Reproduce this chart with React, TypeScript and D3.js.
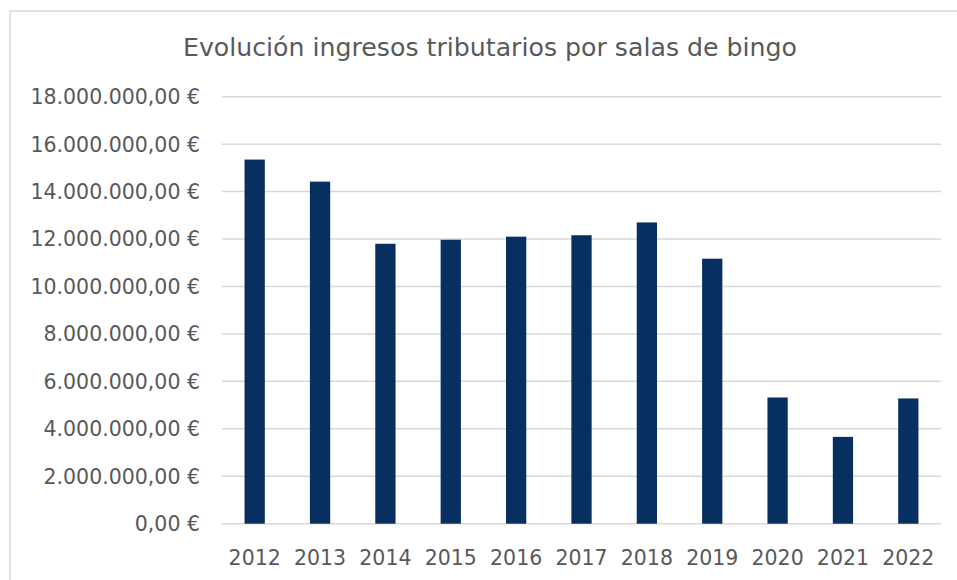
import React from "react";
import * as d3 from "d3";

const years = ["2012","2013","2014","2015","2016","2017","2018","2019","2020","2021","2022"];
const values = [15350000, 14420000, 11800000, 11970000, 12100000, 12160000, 12700000, 11170000, 5320000, 3660000, 5280000];
const yTicks = [0, 2000000, 4000000, 6000000, 8000000, 10000000, 12000000, 14000000, 16000000, 18000000];
const title = "Evolución ingresos tributarios por salas de bingo";

const W = 957, H = 580;
const left = 222, right = 941, top = 96.7, bottom = 523.7;
const FONT = "'DejaVu Sans', sans-serif";
const TEXT = "#595959";

function fmt(v: number) {
  const s = Math.round(v).toString().replace(/\B(?=(\d{3})+(?!\d))/g, ".");
  return `${s},00 €`;
}

export default function App() {
  const x = d3.scaleBand<string>().domain(years).range([left, right]).paddingInner(0.69).paddingOuter(0.345);
  const y = d3.scaleLinear().domain([0, 18000000]).range([bottom, top]);
  return (
    <svg width={W} height={H} style={{ position: "absolute", left: 0, top: 0 }} fontFamily={FONT}>
      <rect x={0} y={0} width={W} height={H} fill="#fff" />
      <rect x={10} y={11} width={W + 20} height={H + 20} fill="none" stroke="#d9d9d9" strokeWidth={1.5} />
      <text x={490} y={56} textAnchor="middle" fontSize={24} fill={TEXT} textLength={614} lengthAdjust="spacingAndGlyphs">{title}</text>
      {yTicks.map((t) => (
        <g key={t}>
          <line x1={left} x2={right} y1={y(t)} y2={y(t)} stroke="#d9d9d9" strokeWidth={1.5} />
          <text x={200} y={y(t)} dy="0.36em" textAnchor="end" fontSize={20.5} fill={TEXT}>{fmt(t)}</text>
        </g>
      ))}
      {years.map((yr, i) => (
        <rect key={yr} x={x(yr)} y={y(values[i])} width={x.bandwidth()} height={y(0) - y(values[i])} fill="#072f5f" />
      ))}
      {years.map((yr) => (
        <text key={yr} x={(x(yr) as number) + x.bandwidth() / 2} y={565} textAnchor="middle" fontSize={20.5} fill={TEXT}>{yr}</text>
      ))}
    </svg>
  );
}
